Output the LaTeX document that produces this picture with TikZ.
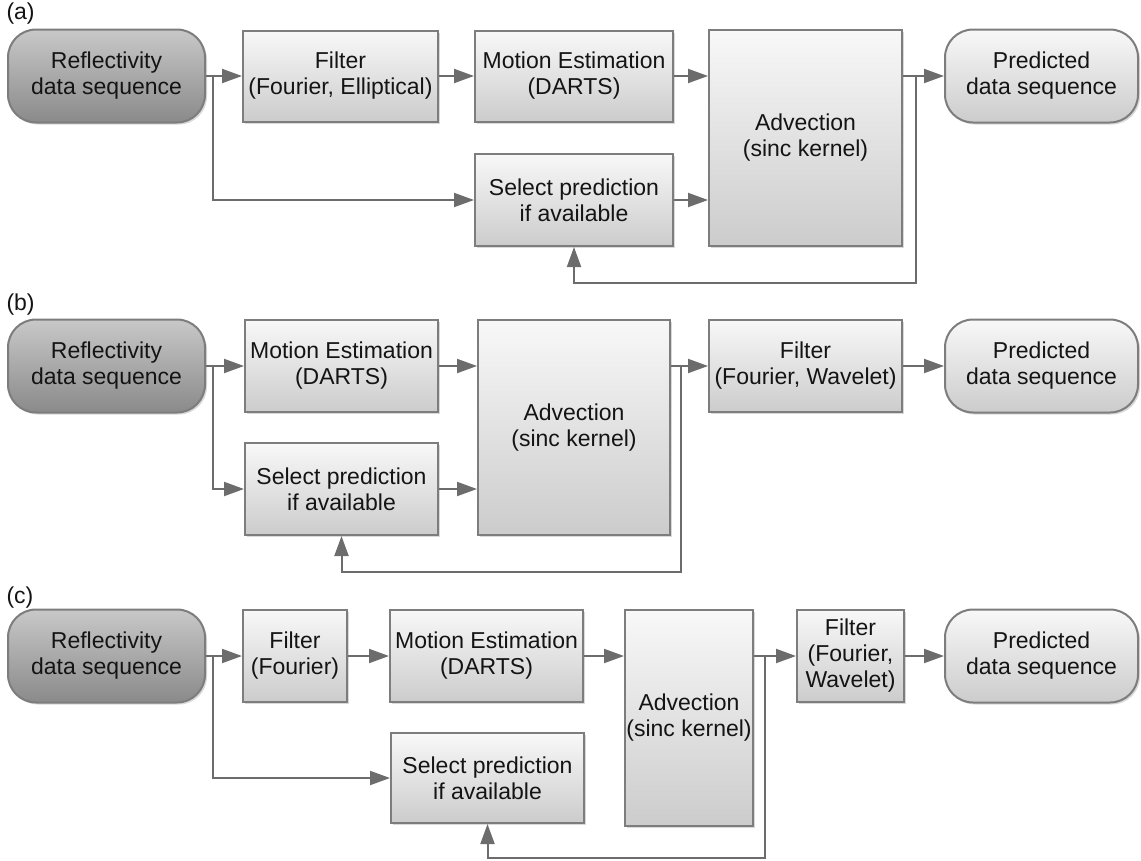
\documentclass[tikz,border=0pt]{standalone}
\usepackage{fontspec}
\setmainfont{Liberation Sans}
\usepackage{xcolor}
\usepackage{tikz}
\usetikzlibrary{arrows.meta,positioning,shadows}
\definecolor{edgegray}{RGB}{125,125,125}
\definecolor{wiregray}{RGB}{108,108,108}
\definecolor{boxtop}{RGB}{248,248,248}
\definecolor{boxbot}{RGB}{204,204,204}
\definecolor{srctop}{RGB}{200,200,200}
\definecolor{srcbot}{RGB}{138,138,138}
\definecolor{ink}{RGB}{20,20,20}

\begin{document}
\begin{tikzpicture}[x=1pt,y=-1pt,font=\fontsize{23}{26}\selectfont,text=ink,
  blk/.style={draw=edgegray,line width=2pt,top color=boxtop,bottom color=boxbot,align=center,inner sep=0pt,
    drop shadow={shadow xshift=2pt,shadow yshift=-2pt,opacity=0.3}},
  term/.style={blk,rounded corners=28pt,minimum width=197pt,minimum height=93pt},
  src/.style={term,top color=srctop,bottom color=srcbot},
  arr/.style={draw=wiregray,line width=2pt,-{Triangle[length=20pt,width=14pt]}},
  link/.style={draw=wiregray,line width=2pt}]
\useasboundingbox (0,0) rectangle (1141,860);
% (a) filter first
\node[anchor=west] (la) at (3,14){(a)};
\node[src] (ra) at (106.5,76){Reflectivity\\data sequence};
\node[blk,minimum width=195pt,minimum height=91pt] (fa) at (340.5,76){Filter\\(Fourier, Elliptical)};
\node[blk,minimum width=198pt,minimum height=91pt] (ma) at (574,76){Motion Estimation\\(DARTS)};
\node[blk,minimum width=198pt,minimum height=92pt] (sa) at (574,200){Select prediction\\if available};
\node[blk,minimum width=193pt,minimum height=216pt] (aa) at (805.5,138){Advection\\(sinc kernel)};
\node[term,minimum width=193pt] (pa) at (1041.5,76){Predicted\\data sequence};
\coordinate (ja) at (213,76);
\coordinate (ka) at (916,283);
\draw[arr] (ra) -- (fa);
\draw[arr] (ja) |- (sa);
\draw[arr] (fa) -- (ma);
\draw[arr] (ma) -- (ma -| aa.west);
\draw[arr] (sa) -- (sa -| aa.west);
\draw[arr] (ma -| aa.east) -- (pa);
\draw[arr] (ka |- pa.west) -- (ka) -| (sa.south);
% (b) filter after advection
\node[anchor=west] (lb) at (3,305){(b)};
\node[src] (rb) at (106.5,366){Reflectivity\\data sequence};
\node[blk,minimum width=193pt,minimum height=92pt] (mb) at (341.5,366){Motion Estimation\\(DARTS)};
\node[blk,minimum width=193pt,minimum height=92pt] (sb) at (341.5,489){Select prediction\\if available};
\node[blk,minimum width=192pt,minimum height=215pt] (ab) at (574,427.5){Advection\\(sinc kernel)};
\node[blk,minimum width=193pt,minimum height=92pt] (fb) at (805.5,366){Filter\\(Fourier, Wavelet)};
\node[term,minimum width=193pt] (pb) at (1041.5,366){Predicted\\data sequence};
\coordinate (jb) at (213,366);
\coordinate (kb) at (681,572);
\draw[arr] (rb) -- (mb);
\draw[arr] (jb) |- (sb);
\draw[arr] (mb) -- (mb -| ab.west);
\draw[arr] (sb) -- (sb -| ab.west);
\draw[arr] (mb -| ab.east) -- (fb);
\draw[arr] (fb) -- (pb);
\draw[arr] (kb |- fb.west) -- (kb) -| (sb.south);
% (c) filter before and after
\node[anchor=west] (lc) at (3,598){(c)};
\node[src] (rc) at (106.5,656){Reflectivity\\data sequence};
\node[blk,minimum width=104pt,minimum height=92pt] (fc) at (295,656){Filter\\(Fourier)};
\node[blk,minimum width=193pt,minimum height=92pt] (mc) at (486.5,656){Motion Estimation\\(DARTS)};
\node[blk,minimum width=193pt,minimum height=90pt] (sc) at (487.5,778){Select prediction\\if available};
\node[blk,minimum width=128pt,minimum height=216pt] (ac) at (689,718){Advection\\(sinc kernel)};
\node[blk,minimum width=107pt,minimum height=92pt] (gc) at (850.5,656){Filter\\(Fourier,\\Wavelet)};
\node[term,minimum width=193pt] (pc) at (1041.5,656){Predicted\\data sequence};
\coordinate (jc) at (213,656);
\coordinate (kc) at (765,858);
\draw[arr] (rc) -- (fc);
\draw[arr] (jc) |- (sc);
\draw[arr] (fc) -- (mc);
\draw[arr] (mc) -- (mc -| ac.west);
\draw[arr] (mc -| ac.east) -- (gc);
\draw[arr] (gc) -- (pc);
\draw[arr] (kc |- gc.west) -- (kc) -| (sc.south);
\end{tikzpicture}
\end{document}
